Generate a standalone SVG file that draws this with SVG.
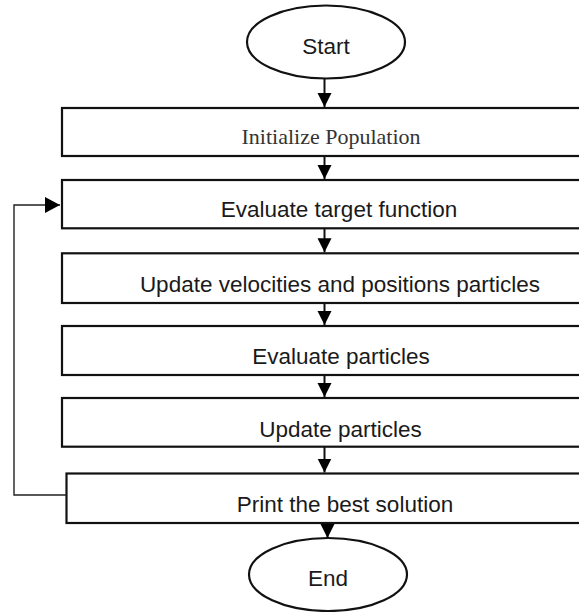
<svg xmlns="http://www.w3.org/2000/svg" width="579" height="612" viewBox="0 0 579 612">
<style>
.box{fill:#fff;stroke:#111;stroke-width:2.2}
.ell{fill:#fff;stroke:#111;stroke-width:2.2}
.t{font-family:"Liberation Sans",Arial,sans-serif;font-size:22.5px;fill:#1a1a1a;text-anchor:middle}
.s{font-family:"Liberation Serif","Times New Roman",serif;font-size:22px;fill:#333;text-anchor:middle}
.c{fill:none;stroke:#111;stroke-width:2}
.fb{fill:none;stroke:#222;stroke-width:1.4}
</style>
<defs>
<marker id="ah" markerUnits="userSpaceOnUse" markerWidth="14" markerHeight="16" refX="14" refY="7" orient="auto" viewBox="0 0 14 14">
<path d="M0,0 L14,7 L0,14 Z" fill="#000"/>
</marker>
<marker id="ahh" markerUnits="userSpaceOnUse" markerWidth="15" markerHeight="16" refX="15" refY="8" orient="auto" viewBox="0 0 15 16">
<path d="M0,0 L15,8 L0,16 Z" fill="#000"/>
</marker>
</defs>
<rect width="579" height="612" fill="#fff"/>
<g id="start">
<ellipse class="ell" cx="326" cy="42" rx="79" ry="36.5"/>
<text class="t" x="326" y="54">Start</text>
</g>
<g id="init">
<rect class="box" x="62" y="108" width="560" height="48"/>
<text class="s" x="331" y="144">Initialize Population</text>
</g>
<g id="evaltarget">
<rect class="box" x="62" y="180" width="560" height="48.3"/>
<text class="t" x="339" y="217">Evaluate target function</text>
</g>
<g id="update-vel">
<rect class="box" x="62" y="253.3" width="560" height="49.7"/>
<text class="t" x="340" y="291.5">Update velocities and positions particles</text>
</g>
<g id="evalparticles">
<rect class="box" x="62" y="326" width="560" height="49"/>
<text class="t" x="341" y="364">Evaluate particles</text>
</g>
<g id="updateparticles">
<rect class="box" x="62" y="398" width="560" height="48.7"/>
<text class="t" x="340.5" y="436.5">Update particles</text>
</g>
<g id="print">
<rect class="box" x="66.5" y="473.5" width="560" height="49.5"/>
<text class="t" x="345" y="511.5">Print the best solution</text>
</g>
<g id="end">
<ellipse class="ell" cx="328" cy="574.5" rx="79" ry="36.5"/>
<text class="t" x="328" y="586">End</text>
</g>
<g id="connectors">
<line class="c" x1="324.5" y1="78.5" x2="324.5" y2="107" marker-end="url(#ah)"/>
<line class="c" x1="324.5" y1="156" x2="324.5" y2="179" marker-end="url(#ah)"/>
<line class="c" x1="324.5" y1="228.3" x2="324.5" y2="252.3" marker-end="url(#ah)"/>
<line class="c" x1="324.5" y1="303" x2="324.5" y2="325" marker-end="url(#ah)"/>
<line class="c" x1="324.5" y1="375" x2="324.5" y2="397" marker-end="url(#ah)"/>
<line class="c" x1="324.5" y1="446.7" x2="324.5" y2="472.5" marker-end="url(#ah)"/>
<line class="c" x1="327.5" y1="523" x2="327.5" y2="538" marker-end="url(#ah)"/>
<polyline class="fb" points="66.5,495 14,495 14,205 60,205" marker-end="url(#ahh)"/>
</g>
</svg>
